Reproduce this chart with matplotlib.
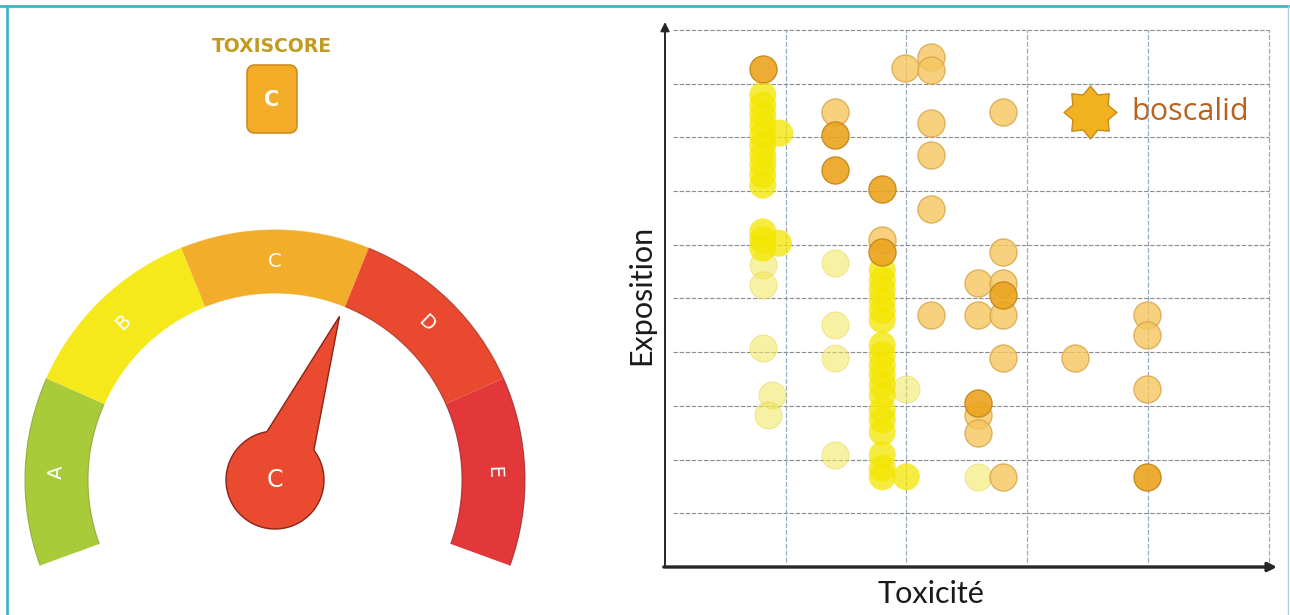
import numpy as np
import matplotlib
matplotlib.use('Agg')
import matplotlib.pyplot as plt
from matplotlib.patches import Wedge, Arc, Polygon, FancyBboxPatch
from matplotlib.path import Path

# ---------------- Gauge data ----------------
grades = ['A', 'B', 'C', 'D', 'E']
grade_colors = ['#a9cb3a', '#f5e91c', '#f2ad2b', '#e8492f', '#e2383a']
grade_edges = ['#7f9a2a', '#f5e91c', '#f2ad2b', '#9a2a1c', '#8a1e20']
score_label = 'C'
title_text = 'TOXISCORE'
needle_angle = 68.5          # degrees (0 = right, 90 = up)
gauge_start, gauge_end = 200.0, -20.0

# ---------------- Scatter data ----------------
# bright (overlapping) yellow substances
yellow_x = [0.81]*10 + [0.95] + [0.81, 0.81, 0.81, 0.94] + [1.80]*15 + [1.80, 1.80, 1.80, 2.00]
yellow_y = [8.79, 8.60, 8.42, 8.23, 8.04, 7.86, 7.67, 7.49, 7.30, 7.11] + [8.08] \
    + [6.24, 6.09, 5.94, 6.03] \
    + [5.53, 5.34, 5.16, 4.97, 4.78, 4.60, 4.13, 3.95, 3.76, 3.58, 3.39, 3.20,
       2.92, 2.74, 2.51] \
    + [2.09, 1.84, 1.68, 1.68]

# pale yellow substances
pale_x = [0.81, 0.81, 0.81, 0.89, 0.85, 1.41, 1.41, 1.41, 1.41, 2.00, 2.59]
pale_y = [5.62, 5.25, 4.08, 3.20, 2.83, 5.66, 4.51, 3.89, 2.09, 3.31, 1.68]

orange_x = [1.41, 1.99, 2.20, 2.20, 2.20, 2.20, 2.20, 2.20, 1.80, 2.80, 2.80, 2.59,
            2.80, 2.59, 2.80, 2.80, 2.59, 2.59, 2.80, 3.40, 3.99, 3.99, 3.99]
orange_y = [8.47, 9.29, 9.50, 9.26, 8.27, 7.67, 6.67, 4.69, 6.09, 8.47, 5.87, 5.29,
            5.29, 4.69, 4.69, 3.89, 2.83, 2.50, 1.68, 3.89, 4.69, 4.32, 3.31]

dark_x = [0.81, 1.41, 1.41, 1.80, 1.80, 2.80, 2.59, 3.99]
dark_y = [9.27, 8.04, 7.39, 7.04, 5.87, 5.07, 3.05, 1.68]

highlight_name = 'boscalid'
highlight_x, highlight_y = 3.52, 8.47

x_label = 'Toxicité'
y_label = 'Exposition'
x_grid = [1, 2, 3, 4, 5]
y_grid = [1, 2, 3, 4, 5, 6, 7, 8, 9, 10]

# ---------------- Figure ----------------
W, H = 1290, 615
fig = plt.figure(figsize=(W/100, H/100), dpi=100)
fig.patch.set_facecolor('white')

bg = fig.add_axes([0, 0, 1, 1])
bg.set_xlim(0, W)
bg.set_ylim(0, H)
bg.axis('off')

def Y(py):
    return H - py

# teal frame
frame_c = '#3fb3c9'
bg.plot([0, W], [Y(6), Y(6)], color=frame_c, lw=2)
bg.plot([7, 7], [0, Y(6)], color=frame_c, lw=2)
bg.plot([1288, 1288], [0, Y(6)], color='#9fd6e2', lw=1)

# gauge
cx, cy = 275, Y(480)
R_out, width = 250, 63
R_in = R_out - width
step = (gauge_start - gauge_end) / len(grades)
for i, (g, c, ec) in enumerate(zip(grades, grade_colors, grade_edges)):
    t_hi = gauge_start - i*step
    t_lo = t_hi - step
    bg.add_patch(Wedge((cx, cy), R_out, t_lo, t_hi, width=width,
                       facecolor=c, edgecolor='none', zorder=2))
    for rr in (R_out, R_in):
        bg.add_patch(Arc((cx, cy), 2*rr, 2*rr, theta1=t_lo, theta2=t_hi,
                         color=ec, lw=0.8, alpha=0.7, zorder=3))
    mid = (t_lo + t_hi) / 2
    rl = R_in + width/2
    bg.text(cx + rl*np.cos(np.radians(mid)), cy + rl*np.sin(np.radians(mid)), g,
            rotation=mid - 90, ha='center', va='center', color='white',
            fontsize=14, family='DejaVu Sans', zorder=4)

# needle + hub as one outline
hub_r = 49
tip_r = 176
half = 31
a = np.radians(needle_angle)
tip = (cx + tip_r*np.cos(a), cy + tip_r*np.sin(a))
angs = np.radians(np.linspace(needle_angle - half, needle_angle + half - 360, 120))
pts = [tip] + [(cx + hub_r*np.cos(t), cy + hub_r*np.sin(t)) for t in angs] + [tip]
bg.add_patch(Polygon(pts, closed=True, facecolor='#e94a30', edgecolor='#8a2418',
                     lw=1.0, zorder=5))
bg.text(cx, cy, score_label, ha='center', va='center', color='white',
        fontsize=17, family='DejaVu Sans', zorder=6)

# title and badge
bg.text(272, Y(46), title_text, ha='center', va='center', color='#c29a1c',
        fontsize=13.5, fontweight='bold', family='DejaVu Sans')
bg.add_patch(FancyBboxPatch((247, Y(133)), 50, 68,
                            boxstyle='round,pad=0,rounding_size=8',
                            facecolor='#f2ac28', edgecolor='#cf8c1c', lw=1.2))
bg.text(272, Y(100), score_label, ha='center', va='center', color='white',
        fontsize=15, fontweight='bold', family='DejaVu Sans')

# ---------------- Scatter ----------------
px_left, px_right, px_bottom, px_top = 665, 1277, 567, 22
ux, uy = 120.7, 53.7
ax = fig.add_axes([px_left/W, (H - px_bottom)/H, (px_right - px_left)/W,
                   (px_bottom - px_top)/H])
ax.set_xlim(0, (px_right - px_left)/ux)
ax.set_ylim(0, (px_bottom - px_top)/uy)
ax.patch.set_alpha(0)
for s in ax.spines.values():
    s.set_visible(False)
ax.set_xticks([])
ax.set_yticks([])

ax.vlines(x_grid, 0.1, 10, colors='#98acc0', lw=0.9, linestyles=(0, (4, 1.5)), zorder=1)
ax.hlines(y_grid, 0.07, 5, colors='#8c8c8c', lw=0.8, linestyles=(0, (4, 1.5)), zorder=1)

ax.annotate('', xy=(0, 1), xytext=(0, 0), xycoords='axes fraction',
            arrowprops=dict(arrowstyle='-|>', lw=1.4, color='#262626',
                            mutation_scale=13, shrinkA=0, shrinkB=0), annotation_clip=False)
ax.annotate('', xy=(1, 0), xytext=(-0.002, 0), xycoords='axes fraction',
            arrowprops=dict(arrowstyle='-|>', lw=2.4, color='#262626',
                            mutation_scale=13, shrinkA=0, shrinkB=0), annotation_clip=False)

ms = 380
ax.scatter(pale_x, pale_y, s=ms, color='#f1e65a', alpha=0.55,
           edgecolors='#e4d040', linewidths=0.6, zorder=2)
ax.scatter(yellow_x, yellow_y, s=ms, color='#f4e600', alpha=0.75,
           edgecolors='none', zorder=2)
ax.scatter(orange_x, orange_y, s=ms, color='#f5c65e', alpha=0.8,
           edgecolors='#d8a448', linewidths=1.0, zorder=3)
ax.scatter(dark_x, dark_y, s=ms, color='#eba41e', alpha=0.9,
           edgecolors='#c4861a', linewidths=1.0, zorder=4)

# 8-point seal marker
k = np.arange(16)
rad = np.where(k % 2 == 0, 1.0, 0.72)
th = np.pi/2 + k*np.pi/8
verts = np.column_stack([rad*np.cos(th), rad*np.sin(th)])
verts = np.vstack([verts, verts[0]])
codes = [Path.MOVETO] + [Path.LINETO]*15 + [Path.CLOSEPOLY]
star = Path(verts, codes)
ax.scatter([highlight_x], [highlight_y], s=1450, marker=star, color='#f2b11e',
           edgecolors='#c98a1a', linewidths=1.0, zorder=5)
bg.text(1131, Y(112), highlight_name, ha='left', va='center', color='#b8621c',
        fontsize=22, family='Open Sans')

bg.text(641, Y(295), y_label, rotation=90, ha='center', va='center',
        color='#1a1a1a', fontsize=22, family='Lato')
bg.text(931, Y(594), x_label, ha='center', va='center',
        color='#1a1a1a', fontsize=22, family='Lato')

fig.savefig('out.png', dpi=100, facecolor='white')
